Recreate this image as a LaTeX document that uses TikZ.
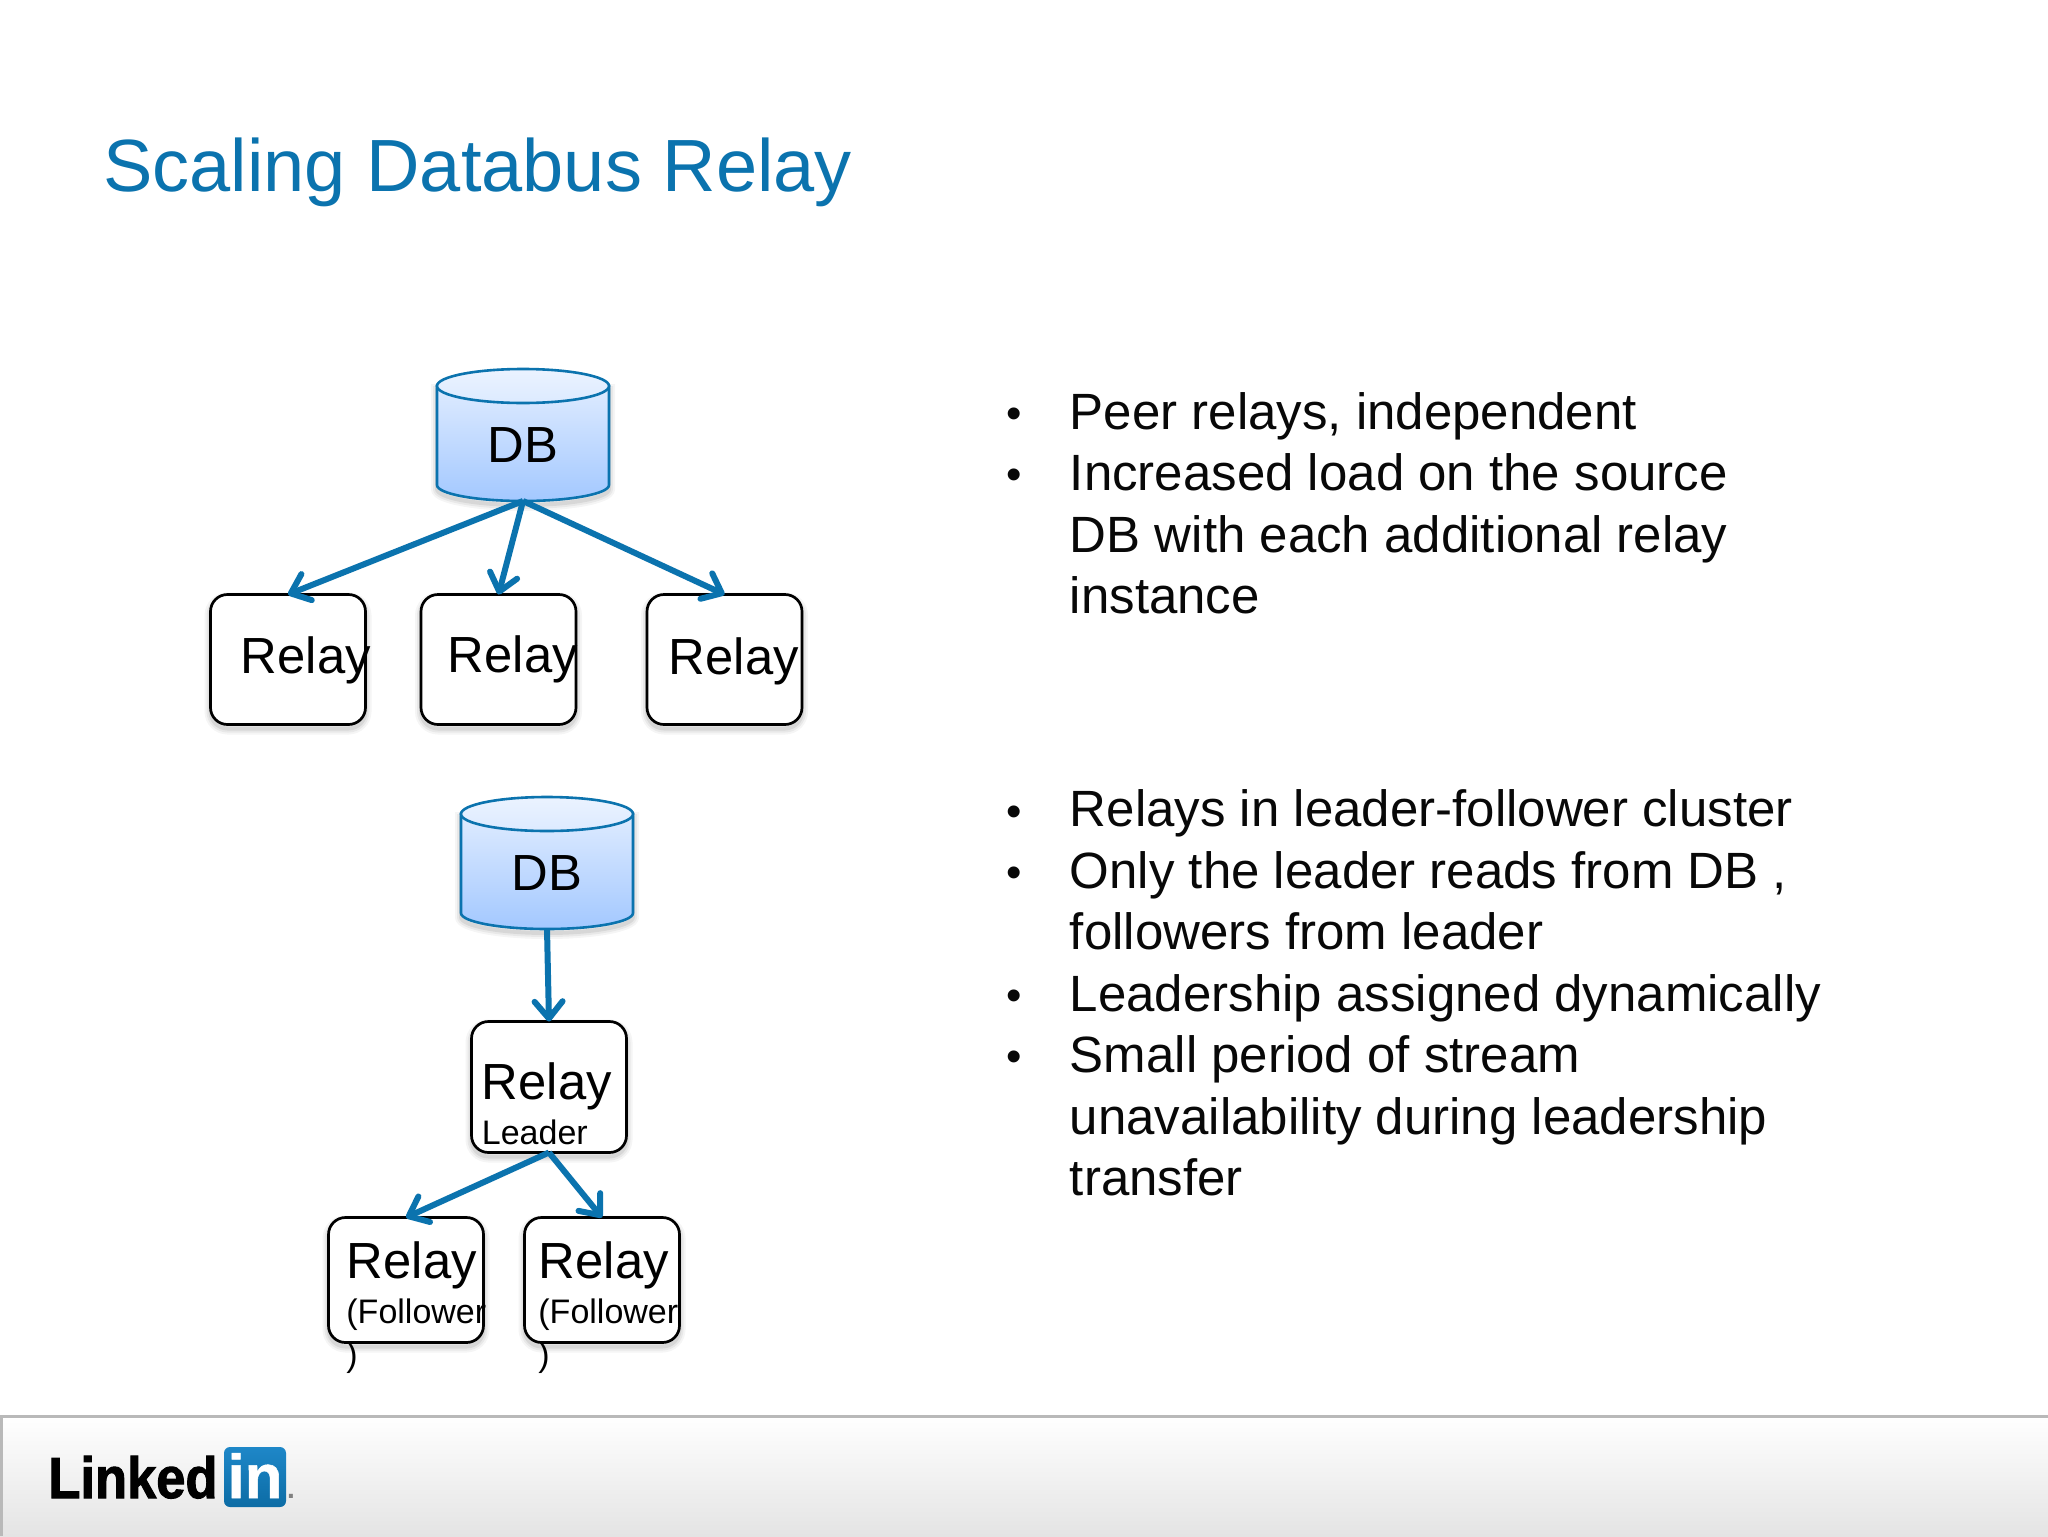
\documentclass[tikz,border=0pt]{standalone}
\usepackage{fontspec}
\setmainfont{Liberation Sans}
\usetikzlibrary{arrows.meta}
\definecolor{liblue}{HTML}{0B73AE}
\definecolor{bodyink}{HTML}{080808}
\tikzset{
  x=0.5pt,y=-0.5pt,
  softshadow/.style={
    preaction={draw=black,draw opacity=.04,line width=6pt,fill=none,transform canvas={yshift=-2pt}},
    preaction={draw=black,draw opacity=.05,line width=4pt,fill=none,transform canvas={yshift=-2pt}},
    preaction={draw=black,draw opacity=.07,line width=2pt,fill=none,transform canvas={yshift=-2pt}}},
  title/.style={anchor=base west,inner sep=0,text=liblue,font=\fontsize{37}{44}\selectfont},
  body/.style={anchor=base west,inner sep=0,text=bodyink,font=\fontsize{25.5}{30}\selectfont},
  bul/.style={anchor=base,inner sep=0,text=bodyink,font=\fontsize{22}{30}\selectfont},
  big/.style={anchor=base west,inner sep=0,text=black,font=\fontsize{25.4}{30}\selectfont},
  small/.style={anchor=base west,inner sep=0,text=black,font=\fontsize{17}{20}\selectfont},
  dblabel/.style={anchor=base,inner sep=0,text=black,font=\fontsize{25.4}{30}\selectfont},
  relaybox/.style={draw=black,line width=1.35pt,rounded corners=8.5pt,fill=white,minimum width=77.5pt,outer sep=0,inner sep=0,softshadow},
  tall/.style={minimum height=65pt},
  mid/.style={minimum height=65.5pt},
  low/.style={minimum height=62.5pt},
  drum/.style={minimum width=86pt,minimum height=66pt,outer sep=0,inner sep=0},
  conn/.style={draw=liblue,line width=3pt,-{Straight Barb[length=8.5pt,width=14pt,round]}},
  drumline/.style={draw=liblue,line width=1.3pt},
}
\newcommand{\dbdrum}[3]{%
  \begin{scope}[shift={(#2,#3)}]
    \path[softshadow,drumline,top color={rgb,255:red,222;green,235;blue,255},bottom color={rgb,255:red,163;green,200;blue,255}]
      (-86,-49) -- (-86,50) .. controls (-86,58.8) and (-47.5,66) .. (0,66) .. controls (47.5,66) and (86,58.8) .. (86,50) -- (86,-49) -- cycle;
    \path[drumline,top color={rgb,255:red,235;green,243;blue,255},bottom color={rgb,255:red,220;green,234;blue,255}]
      (0,-49) ellipse [x radius=86,y radius=17];
    \node[drum] (#1) at (0,0) {};
  \end{scope}}
\begin{document}
\begin{tikzpicture}
\useasboundingbox (0,0) rectangle (2048,1536);
\fill[white] (0,0) rectangle (2048,1536);
% footer
\path[top color=white,bottom color={rgb,255:red,228;green,228;blue,228}] (0,1416) rectangle (2048,1536);
\draw[color={rgb,255:red,185;green,185;blue,185},line width=1.5pt] (1,1536) -- (1,1416) -- (2048,1416);
% title
\node[title] (title) at (103,191) {Scaling Databus Relay};
% top diagram
\dbdrum{dbA}{523}{435}
\node[dblabel] (dbAt) at (523,462) {DB};
\node[relaybox,tall] (r1) at (288,659.5) {};
\node[relaybox,tall] (r2) at (498.5,659.5) {};
\node[relaybox,tall] (r3) at (724.5,659.5) {};
\node[big] (r1t) at (240.5,673) {Relay};
\node[big] (r2t) at (447.5,672) {Relay};
\node[big] (r3t) at (668.5,674) {Relay};
\draw[conn] (dbA.south) -- (r1.north);
\draw[conn] (dbA.south) -- (r2.north);
\draw[conn] (dbA.south) -- (r3.north);
% bottom diagram
\dbdrum{dbB}{547}{863}
\node[dblabel] (dbBt) at (547,890) {DB};
\node[relaybox,mid] (lead) at (549,1087) {};
\node[relaybox,low] (f1) at (406,1280) {};
\node[relaybox,low] (f2) at (602,1280) {};
\node[big] (leadt) at (481.5,1099) {Relay};
\node[small] (leads) at (481.5,1144) {Leader};
\node[big] (f1t) at (346.5,1278) {Relay};
\node[small] (f1s) at (346,1323) {(Follower};
\node[small] (f1p) at (346,1366) {)};
\node[big] (f2t) at (538.5,1278) {Relay};
\node[small] (f2s) at (538,1323) {(Follower};
\node[small] (f2p) at (538,1366) {)};
\draw[conn] (dbB.south) -- (lead.north);
\draw[conn] (lead.south) -- (f1.north);
\draw[conn] (lead.south) -- (f2.north);
% upper bullets
\node[bul] (b1) at (1014,428) {•};
\node[body] (t1) at (1069.5,429.5) {Peer relays, independent};
\node[bul] (b2) at (1014,489.5) {•};
\node[body] (t2) at (1069.5,490.5) {Increased load on the source};
\node[body] (t3) at (1069.5,552.5) {DB with each additional relay};
\node[body] (t4) at (1069.5,613.5) {instance};
% lower bullets
\node[bul] (b3) at (1014,826) {•};
\node[body] (t5) at (1069.5,826.5) {Relays in leader-follower cluster};
\node[bul] (b4) at (1014,887.5) {•};
\node[body] (t6) at (1069.5,888) {Only the leader reads from DB ,};
\node[body] (t7) at (1069.5,949.5) {followers from leader};
\node[bul] (b5) at (1014,1010) {•};
\node[body] (t8) at (1069.5,1011) {Leadership assigned dynamically};
\node[bul] (b6) at (1014,1071.5) {•};
\node[body] (t9) at (1069.5,1072.5) {Small period of stream};
\node[body] (t10) at (1069.5,1134) {unavailability during leadership};
\node[body] (t11) at (1069.5,1195.5) {transfer};
% logo
\node[anchor=base west,inner sep=0,text=black,xscale=0.905,font=\fontsize{29}{34}\bfseries\addfontfeature{FakeBold=1.8}] (logoa) at (48,1498) {Linked};
\path[rounded corners=3pt,top color={rgb,255:red,30;green,135;blue,200},bottom color={rgb,255:red,12;green,108;blue,165}] (224,1447) rectangle (286,1507);
\node[anchor=base,inner sep=0,text=white,font=\fontsize{31}{34}\bfseries\addfontfeature{FakeBold=0.8}] (logob) at (255,1498) {in};
\node[anchor=base,inner sep=0,text=gray,font=\fontsize{14}{16}\bfseries] (logoc) at (291,1498) {.};
\end{tikzpicture}
\end{document}
